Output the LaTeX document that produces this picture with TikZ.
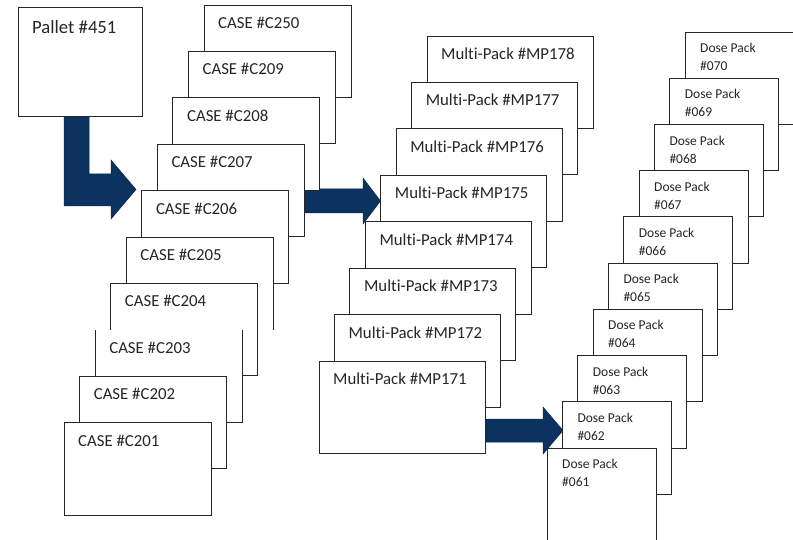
\documentclass[tikz,border=0pt]{standalone}
\usepackage{fontspec}
\setmainfont{Carlito}[Ligatures={NoCommon}]
\usetikzlibrary{calc}
\definecolor{arrowblue}{RGB}{12,50,96}
\definecolor{ink}{RGB}{38,38,38}
% generic box with a one-line label
\newcommand\pkbox[7][]{%
  \node[pbox, minimum width=#5pt, #1] (#2) at (#3,#4) {};
  \node[#6] (#2t) at ($(#2.north west)+(14,23.5)$) {#7};
}
% dose pack box with a two-line label
\newcommand\dpbox[4]{%
  \node[pbox, minimum width=109pt] (#1) at (#2,#3) {};
  \node[dlbl] (#1t) at ($(#1.north west)+(15,20.7)$) {Dose Pack};
  \node[dlbl] (#1n) at ($(#1.north west)+(15,38.7)$) {\##4};
}
\begin{document}
\begin{tikzpicture}[x=1pt,y=-1pt,
  pbox/.style={draw=ink, line width=0.9pt, fill=white, anchor=north west,
    inner sep=0pt, outer sep=0pt, minimum height=92.5pt},
  edge/.style={draw=ink, line width=0.9pt},
  clbl/.style={anchor=base west, inner sep=0pt, text=ink, font=\fontsize{16.8}{20}\selectfont},
  dlbl/.style={anchor=base west, inner sep=0pt, text=ink, font=\fontsize{13.5}{18}\selectfont},
  plbl/.style={anchor=base west, inner sep=0pt, text=ink, font=\fontsize{18.7}{22}\selectfont},
  blockarrow/.style={fill=arrowblue, draw=arrowblue!85!black, line width=0.5pt, line join=miter}]
\useasboundingbox (0,0) rectangle (793,540);
\clip (0,0) rectangle (793,540);

% ---- block arrows (drawn beneath the boxes) ----
\path[blockarrow] (64,114) -- (89,114) -- (89,174) -- (111,174) -- (111,160)
   -- (136,189.5) -- (111,219) -- (111,206) -- (64,206) -- cycle;
\path[blockarrow] (300,189) -- (363,189) -- (363,178) -- (380.5,201)
   -- (363,224) -- (363,213) -- (300,213) -- cycle;
\path[blockarrow] (480,419) -- (543,419) -- (543,407) -- (563,430.5)
   -- (543,454) -- (543,442) -- (480,442) -- cycle;

% ---- pallet ----
\node[pbox, minimum width=124pt, minimum height=109pt] (pallet) at (18,7) {};
\node[plbl] (pallett) at ($(pallet.north west)+(14,27)$) {Pallet \#451};

% ---- cases ----
\pkbox{c250}{204}{5}{147}{clbl}{CASE \#C250}
\pkbox{c209}{188.4}{51.4}{147}{clbl}{CASE \#C209}
\pkbox{c208}{172.9}{97.8}{147}{clbl}{CASE \#C208}
\pkbox{c207}{157.3}{144.2}{147}{clbl}{CASE \#C207}
\pkbox{c206}{141.8}{190.6}{147}{clbl}{CASE \#C206}
\pkbox[draw=none]{c205}{126.2}{237}{147}{clbl}{CASE \#C205}
\draw[edge] (c205.south west) -- (c205.north west) -- (c205.north east) -- (c205.south east);
\pkbox{c204}{110.7}{283.4}{147}{clbl}{CASE \#C204}
\pkbox[draw=none]{c203}{95.1}{329.8}{147}{clbl}{CASE \#C203}
\draw[edge] (c203.north west) -- (c203.south west) -- (c203.south east) -- (c203.north east);
\pkbox{c202}{79.6}{376.2}{147}{clbl}{CASE \#C202}
\pkbox{c201}{64}{422.6}{147}{clbl}{CASE \#C201}

% ---- multi-packs ----
\pkbox{mp178}{427}{36}{166}{clbl}{Multi-Pack \#MP178}
\pkbox{mp177}{411.6}{82.4}{166}{clbl}{Multi-Pack \#MP177}
\pkbox{mp176}{396.1}{128.9}{166}{clbl}{Multi-Pack \#MP176}
\pkbox{mp175}{380.7}{175.3}{166}{clbl}{Multi-Pack \#MP175}
\pkbox{mp174}{365.3}{221.7}{166}{clbl}{Multi-Pack \#MP174}
\pkbox{mp173}{349.9}{268.1}{166}{clbl}{Multi-Pack \#MP173}
\pkbox{mp172}{334.4}{314.6}{166}{clbl}{Multi-Pack \#MP172}
\pkbox{mp171}{319}{361}{166}{clbl}{Multi-Pack \#MP171}

% ---- dose packs ----
\dpbox{d070}{685}{32}{070}
\dpbox{d069}{669.7}{78.2}{069}
\dpbox{d068}{654.3}{124.4}{068}
\dpbox{d067}{639}{170.7}{067}
\dpbox{d066}{623.7}{216.9}{066}
\dpbox{d065}{608.3}{263.1}{065}
\dpbox{d064}{593}{309.3}{064}
\dpbox{d063}{577.7}{355.6}{063}
\dpbox{d062}{562.3}{401.8}{062}
\dpbox{d061}{547}{448}{061}
\end{tikzpicture}
\end{document}
